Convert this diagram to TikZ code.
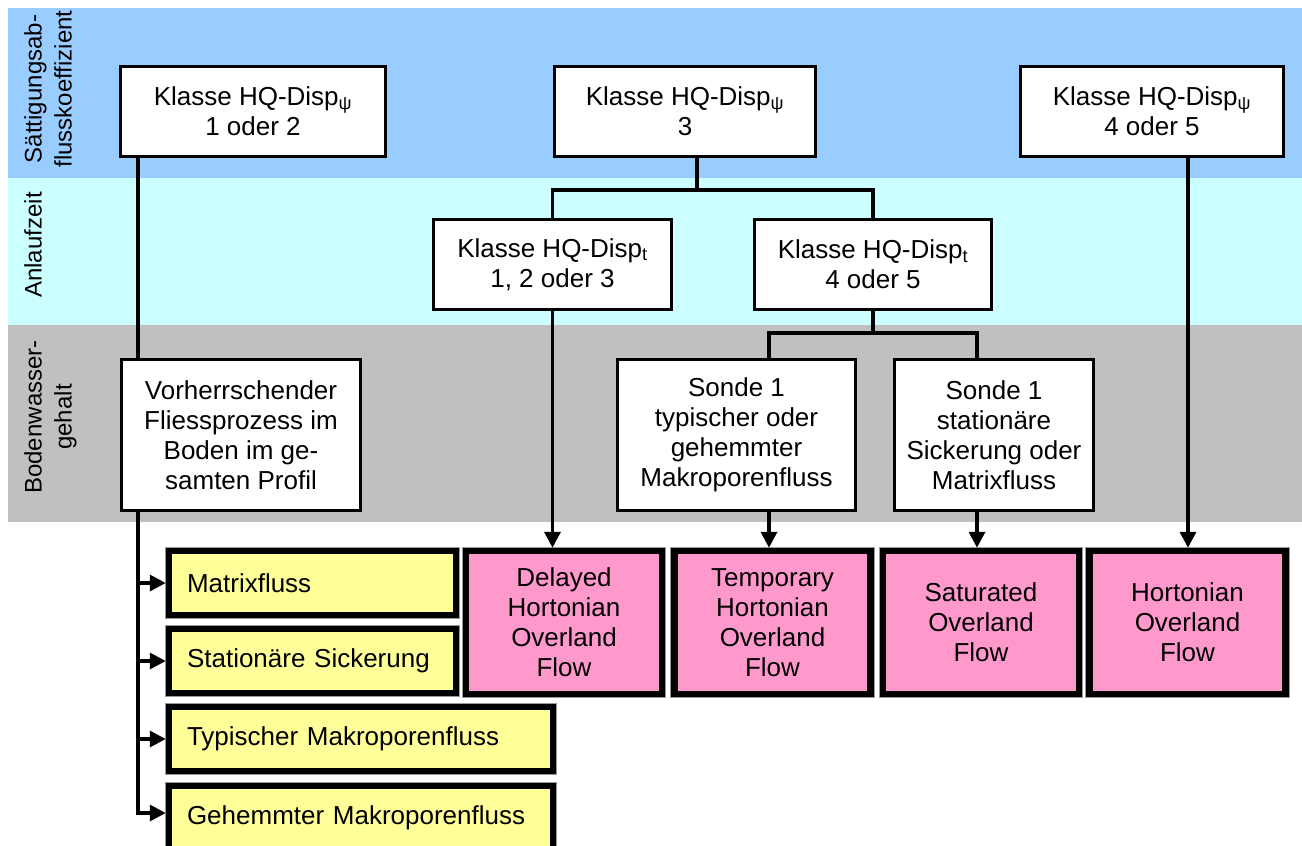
\documentclass[tikz,border=0pt]{standalone}
\usepackage{fontspec}
\setmainfont{Liberation Sans}
\usetikzlibrary{arrows.meta}
\definecolor{bandblue}{HTML}{99CCFF}
\definecolor{bandcyan}{HTML}{CCFFFF}
\definecolor{bandgray}{HTML}{C0C0C0}
\definecolor{flowyellow}{HTML}{FFFF99}
\definecolor{flowpink}{HTML}{FF99CC}

\begin{document}
\begin{tikzpicture}[x=1pt,y=-1pt,
  font=\fontsize{26}{30}\selectfont,
  conn/.style={line width=3.6pt},
  arr/.style={line width=3.6pt,-{Triangle[length=16pt,width=16pt]}},
  wbox/.style={draw,fill=white,line width=3.6pt,align=center,inner sep=0pt},
  flowbox/.style={draw,line width=6.5pt,preaction={draw=black!40,line width=8.5pt},inner sep=0pt},
  pbox/.style={flowbox,fill=flowpink,align=center,minimum width=196pt,minimum height=143pt},
  ybox/.style={flowbox,fill=flowyellow,align=left,inner xsep=18pt,minimum height=64pt},
  bandlabel/.style={rotate=90,anchor=north,inner sep=0pt,align=center,font=\fontsize{24}{30}\selectfont}
]
\useasboundingbox (0,0) rectangle (1302,846);
\clip (0,0) rectangle (1302,846);

% horizontal bands
\fill[bandblue] (8,8) rectangle (1302,178);
\fill[bandcyan] (8,178) rectangle (1302,325);
\fill[bandgray] (8,325) rectangle (1302,522);

\node[bandlabel] (lab1) at (24,89) {Sättigungsab-\\flusskoeffizient};
\node[bandlabel] (lab2) at (24,245) {Anlaufzeit};
\node[bandlabel] (lab3) at (24,417) {Bodenwasser-\\gehalt};

% decision boxes
\node[wbox,minimum width=265pt,minimum height=90pt] (k12) at (253,111.5) {Klasse HQ-Disp\textsubscript{ψ}\\1 oder 2};
\node[wbox,minimum width=261pt,minimum height=90pt] (k3) at (685,111.5) {Klasse HQ-Disp\textsubscript{ψ}\\3};
\node[wbox,minimum width=263pt,minimum height=90pt] (k45) at (1152,111.5) {Klasse HQ-Disp\textsubscript{ψ}\\4 oder 5};
\node[wbox,minimum width=238pt,minimum height=90pt] (t123) at (552.5,264.5) {Klasse HQ-Disp\textsubscript{t}\\1, 2 oder 3};
\node[wbox,minimum width=237pt,minimum height=90pt] (t45) at (873,264.5) {Klasse HQ-Disp\textsubscript{t}\\4 oder 5};
\node[wbox,minimum width=239pt,minimum height=151pt] (vfp) at (241,435) {Vorherrschender\\Fliessprozess im\\Boden im ge-\\samten Profil};
\node[wbox,minimum width=238pt,minimum height=151pt] (s1a) at (736.5,435) {Sonde 1\\typischer oder\\gehemmter\\Makroporenfluss};
\node[wbox,minimum width=199pt,minimum height=151pt] (s1b) at (994,435) {Sonde 1\\stationäre\\Sickerung oder\\Matrixfluss};

% overland flow results
\node[pbox] (p1) at (564,622.5) {Delayed\\Hortonian\\Overland\\Flow};
\node[pbox] (p2) at (772.5,622.5) {Temporary\\Hortonian\\Overland\\Flow};
\node[pbox] (p3) at (981,622.5) {Saturated\\Overland\\Flow};
\node[pbox] (p4) at (1187.5,622.5) {Hortonian\\Overland\\Flow};

% subsurface flow results
\node[ybox,text width=251pt] (y1) at (312.5,583) {Matrixfluss};
\node[ybox,text width=251pt] (y2) at (312.5,661) {Stationäre Sickerung};
\node[ybox,text width=348pt] (y3) at (361,739) {Typischer Makroporenfluss};
\node[ybox,text width=348pt] (y4) at (361,818) {Gehemmter Makroporenfluss};

% trunk positions
\coordinate (c1) at (138,0);
\coordinate (c3) at (1188,0);
\coordinate (c7) at (769,0);
\coordinate (c8) at (977,0);
\coordinate (j1) at (697,190);
\coordinate (j2) at (873,333);
\coordinate (tk) at (138,813);

% connectors
\draw[conn] (k12.south -| c1) -- (vfp.north -| c1);
\draw[conn] (k3.south -| j1) -- (j1);
\draw[conn] (t123.north) |- (j1) -| (t45.north);
\draw[conn] (t45.south) -- (j2);
\draw[conn] (s1a.north -| c7) |- (j2) -| (s1b.north -| c8);

\draw[arr] (t123.south) -- (t123.south |- p1.north);
\draw[arr] (s1a.south -| c7) -- (c7 |- p2.north);
\draw[arr] (s1b.south -| c8) -- (c8 |- p3.north);
\draw[arr] (k45.south -| c3) -- (c3 |- p4.north);

\draw[conn] (vfp.south -| c1) -- (tk);
\draw[arr] (y1.west -| c1) -- (y1.west);
\draw[arr] (y2.west -| c1) -- (y2.west);
\draw[arr] (y3.west -| c1) -- (y3.west);
\draw[arr] (vfp.south -| c1) -- (tk) -- (y4.west |- tk);
\end{tikzpicture}
\end{document}
